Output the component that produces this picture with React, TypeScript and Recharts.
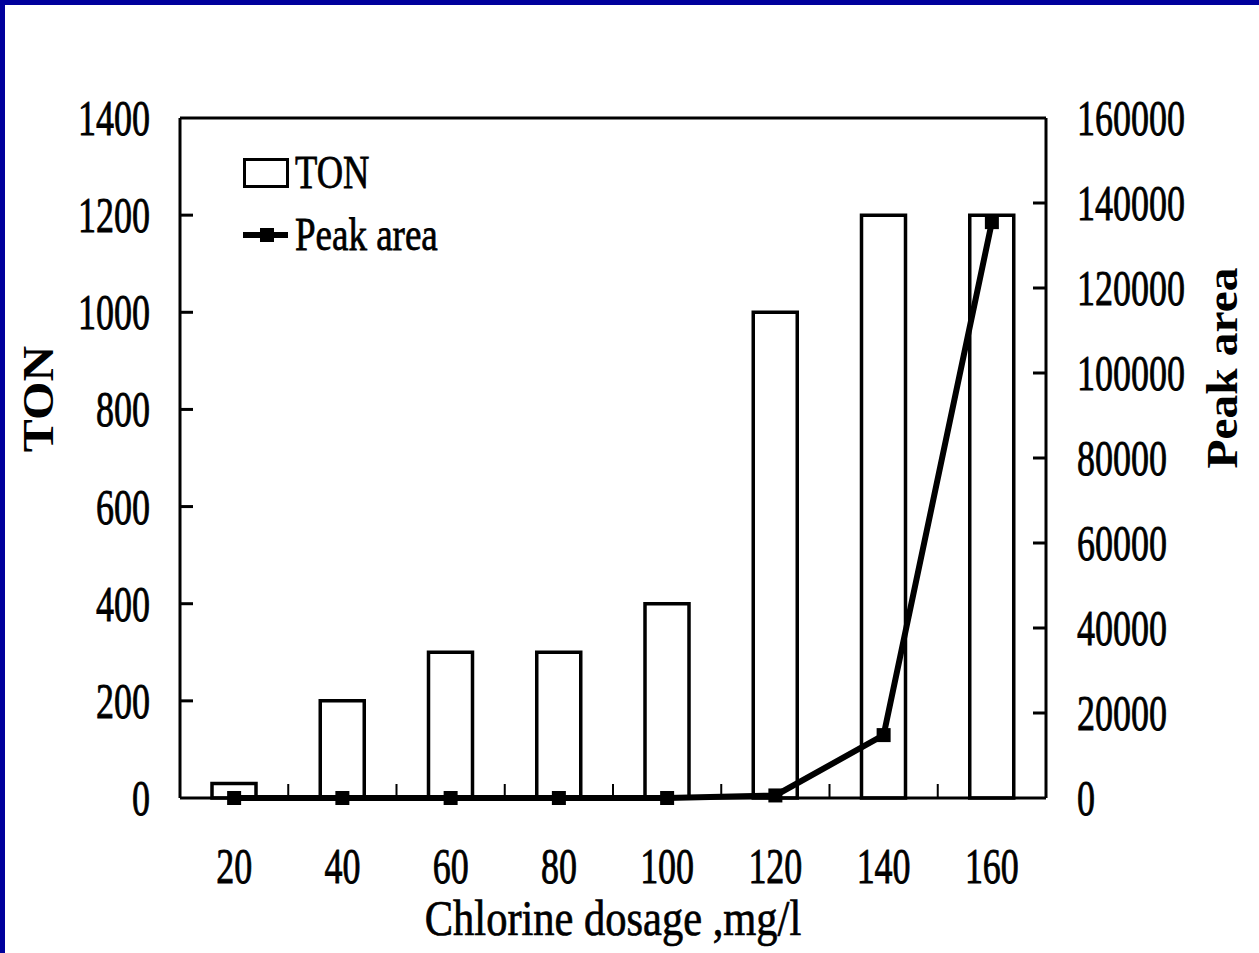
import React from 'react';
import { ComposedChart, Bar, Line, XAxis, YAxis, Legend, Label } from 'recharts';

const categories = ['20', '40', '60', '80', '100', '120', '140', '160'];
const tonValues = [30, 200, 300, 300, 400, 1000, 1200, 1200];
const peakAreaValues = [0, 0, 0, 0, 0, 600, 14800, 135500];
const tonTicks = [0, 200, 400, 600, 800, 1000, 1200, 1400];
const peakTicks = [0, 20000, 40000, 60000, 80000, 100000, 120000, 140000, 160000];
const TON_MAX = 1400;
const PEAK_MAX = 160000;
const MARGIN = { top: 117, right: 212, bottom: 154, left: 179 };

const data = categories.map((c, i) => ({ dosage: c, ton: tonValues[i], peak: peakAreaValues[i] }));

const FONT = '"Liberation Serif", "Times New Roman", serif';
const INK = { fill: '#000', stroke: '#000', strokeWidth: 0.6 };

const LeftTick = (props: any) => {
  const x = Number(props.x);
  const y = Number(props.y);
  return (
    <text transform={`translate(${x - 30},${y + 17}) scale(1,1.42)`} textAnchor="end" fontSize={36} fontFamily={FONT} {...INK}>
      {props.payload.value}
    </text>
  );
};

const RightTick = (props: any) => {
  const x = Number(props.x);
  const y = Number(props.y);
  return (
    <text transform={`translate(${x + 31},${y + 17}) scale(1,1.42)`} textAnchor="start" fontSize={36} fontFamily={FONT} {...INK}>
      {props.payload.value}
    </text>
  );
};

const BottomTick = (props: any) => {
  const { x, y, payload } = props;
  return (
    <text transform={`translate(${x},${y + 85}) scale(1,1.42)`} textAnchor="middle" fontSize={36} fontFamily={FONT} {...INK}>
      {payload.value}
    </text>
  );
};

// inward tick marks on all three axes, derived from the bottom axis box (decoration only)
const AxisMarks = (props: any) => {
  const vb = props.viewBox || {};
  const x0 = Number(vb.x ?? 180);
  const w = Number(vb.width ?? 866);
  const bottom = Number(vb.y ?? 798);
  const top = MARGIN.top + 1;
  const h = bottom - top;
  const n = categories.length;
  return (
    <g>
      {categories.slice(1).map((c, i) => {
        const x = x0 + (w * (i + 1)) / n;
        return <rect key={`bm-${c}`} x={x - 1} y={bottom - 14} width={2} height={14} fill="#000" />;
      })}
      {tonTicks.slice(1, -1).map((v) => {
        const y = top + h * (1 - v / TON_MAX);
        return <rect key={`lm-${v}`} x={x0} y={y - 1.5} width={13} height={3} fill="#000" />;
      })}
      {peakTicks.slice(1, -1).map((v) => {
        const y = top + h * (1 - v / PEAK_MAX);
        return <rect key={`rm-${v}`} x={x0 + w - 13} y={y - 1.5} width={13} height={3} fill="#000" />;
      })}
    </g>
  );
};

const LeftTitle = (props: any) => {
  const vb = props.viewBox || {};
  const x = (vb.x ?? 179) + (vb.width ?? 1) - 142;
  const y = (vb.y ?? 118) + 281;
  return (
    <text transform={`translate(${x},${y}) rotate(-90) scale(1.1,1)`} textAnchor="middle" dominantBaseline="central" fontWeight="bold" fontSize={45} fontFamily={FONT} fill="#000">
      TON
    </text>
  );
};

const RightTitle = (props: any) => {
  const vb = props.viewBox || {};
  const x = (vb.x ?? 1046) + 176;
  const y = (vb.y ?? 118) + 250;
  return (
    <text transform={`translate(${x},${y}) rotate(-90) scale(1.08,1)`} textAnchor="middle" dominantBaseline="central" fontWeight="bold" fontSize={44} fontFamily={FONT} fill="#000">
      Peak area
    </text>
  );
};

const BottomTitle = (props: any) => {
  const vb = props.viewBox || {};
  const x = (vb.x ?? 180) + (vb.width ?? 866) / 2;
  const y = (vb.y ?? 798) + 137;
  return (
    <text transform={`translate(${x},${y}) scale(1,1.18)`} textAnchor="middle" fontSize={42.5} fontFamily={FONT} {...INK}>
      Chlorine dosage ,mg/l
    </text>
  );
};

const SquareDot = (props: any) => {
  const { cx, cy } = props;
  if (cx == null || cy == null) return <g />;
  return <rect x={cx - 7} y={cy - 7} width={14} height={14} fill="#000" />;
};

const LegendContent = (props: any) => {
  const payload = props.payload || [];
  return (
    <svg width={220} height={110} style={{ display: 'block', overflow: 'visible' }}>
      {payload.map((entry: any, i: number) => {
        const isBar = entry.type === 'rect' || entry.dataKey === 'ton';
        if (isBar) {
          return (
            <g key={`l-${i}`}>
              <rect x={1.5} y={9.5} width={43} height={27} fill="#fff" stroke="#000" strokeWidth={3} />
              <text transform="translate(52,38) scale(1,1.25)" fontSize={36.5} fontFamily={FONT} {...INK}>
                {entry.value}
              </text>
            </g>
          );
        }
        return (
          <g key={`l-${i}`}>
            <line x1={0} y1={85} x2={45} y2={85} stroke="#000" strokeWidth={6} />
            <rect x={17} y={78} width={14} height={14} fill="#000" />
            <text transform="translate(52,100) scale(1,1.25)" fontSize={37} fontFamily={FONT} {...INK}>
              {entry.value}
            </text>
          </g>
        );
      })}
    </svg>
  );
};

export default function App() {
  return (
    <div style={{ position: 'absolute', left: 0, top: 0, width: 1259, height: 953, background: '#fff', overflow: 'hidden' }}>
      <div style={{ position: 'absolute', left: 0, top: 0, width: 1259, height: 5, background: '#00009c', zIndex: 2 }} />
      <div style={{ position: 'absolute', left: 0, top: 0, width: 5, height: 953, background: '#00009c', zIndex: 2 }} />
      <ComposedChart width={1259} height={953} data={data} margin={MARGIN} barCategoryGap={0}>
        <XAxis
          xAxisId="main"
          dataKey="dosage"
          height={1}
          axisLine={{ stroke: '#000', strokeWidth: 3 }}
          tickLine={false}
          tickSize={0}
          tickMargin={0}
          tick={BottomTick}
          interval={0}
        >
          <Label content={BottomTitle} />
          <Label content={AxisMarks} />
        </XAxis>
        <XAxis
          xAxisId="top"
          orientation="top"
          dataKey="dosage"
          height={1}
          axisLine={{ stroke: '#000', strokeWidth: 3 }}
          tickLine={false}
          tick={false}
        />
        <YAxis
          yAxisId="left"
          width={1}
          domain={[0, TON_MAX]}
          ticks={tonTicks}
          interval={0}
          axisLine={{ stroke: '#000', strokeWidth: 3 }}
          tickLine={false}
          tickSize={0}
          tickMargin={0}
          tick={LeftTick}
        >
          <Label content={LeftTitle} />
        </YAxis>
        <YAxis
          yAxisId="right"
          orientation="right"
          width={1}
          domain={[0, PEAK_MAX]}
          ticks={peakTicks}
          interval={0}
          axisLine={{ stroke: '#000', strokeWidth: 3 }}
          tickLine={false}
          tickSize={0}
          tickMargin={0}
          tick={RightTick}
        >
          <Label content={RightTitle} />
        </YAxis>
        <Legend
          layout="horizontal"
          verticalAlign="middle"
          align="center"
          content={LegendContent}
          wrapperStyle={{ position: 'absolute', left: 243, top: 150, width: 220, height: 110 }}
        />
        <Bar
          xAxisId="main"
          yAxisId="left"
          dataKey="ton"
          name="TON"
          barSize={44}
          fill="#fff"
          stroke="#000"
          strokeWidth={3.5}
          isAnimationActive={false}
        />
        <Line
          xAxisId="main"
          yAxisId="right"
          dataKey="peak"
          name="Peak area"
          type="linear"
          stroke="#000"
          strokeWidth={6}
          dot={SquareDot}
          activeDot={false}
          isAnimationActive={false}
        />
      </ComposedChart>
    </div>
  );
}
